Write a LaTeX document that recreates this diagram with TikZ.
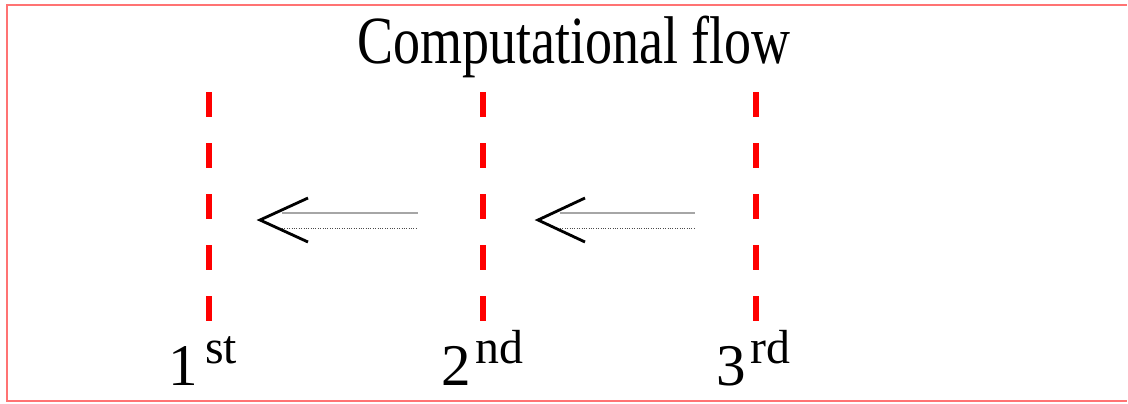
\documentclass[tikz,border=0pt]{standalone}
\usepackage{fontspec}
\setmainfont{Liberation Serif}
\usepackage{graphicx}
\usepackage{xcolor}
\usetikzlibrary{calc}

\newcommand{\narrowtext}[1]{\scalebox{0.8}[1]{#1}}

\begin{document}
\begin{tikzpicture}[
    x=0.025cm, y=-0.025cm,
    frame/.style={draw=red!55, line width=1pt},
    title/.style={inner sep=0pt, anchor=base, font=\fontsize{48}{50}\selectfont},
    ordinal/.style={inner sep=0pt, anchor=base, font=\fontsize{42}{44}\selectfont},
    suffix/.style={inner sep=0pt, anchor=base, font=\fontsize{34}{36}\selectfont},
    cut/.style={draw=red, line width=3.6pt, dash pattern=on 17.8pt off 18.5pt},
    shaftA/.style={draw=gray!70, line width=1.3pt},
    shaftB/.style={draw=gray!60!black, line width=0.7pt, densely dotted},
    head/.style={draw=black, line width=2pt},
]

\useasboundingbox (0,0) rectangle (1128,403);

%% --- Frame (open on the right) ---
\draw[frame] (1127,5) -- (7,5) -- (7,401) -- (1127,401);

%% --- Title ---
\node[title] (flow) at (574,63) {\narrowtext{Computational flow}};

%% --- Cut lines ---
\coordinate (top1) at (209,92);  \coordinate (bot1) at (209,322);
\coordinate (top2) at (483,92);  \coordinate (bot2) at (483,322);
\coordinate (top3) at (756,92);  \coordinate (bot3) at (756,322);
\draw[cut] (top1) -- (bot1);
\draw[cut] (top2) -- (bot2);
\draw[cut] (top3) -- (bot3);

%% --- Labels ---
\node[ordinal] (n1) at (183,385) {1};
\node[suffix]  (s1) at (221,363) {st};
\node[ordinal] (n2) at (456,385) {2};
\node[suffix]  (s2) at (499,363) {nd};
\node[ordinal] (n3) at (731,385) {3};
\node[suffix]  (s3) at (770,363) {rd};

%% --- Arrow: 2nd to 1st ---
\coordinate (tipA) at (260,220);
\coordinate (endA) at (418,220);
\draw[shaftA] ($(tipA)+(22,-7)$) -- ($(endA)+(0,-7)$);
\draw[shaftB] ($(tipA)+(22,8)$) -- ($(endA)+(0,8)$);
\draw[head] ($(tipA)+(48,-22)$) -- (tipA) -- ($(tipA)+(48,22)$);

%% --- Arrow: 3rd to 2nd ---
\coordinate (tipB) at (538,220);
\coordinate (endB) at (695,220);
\draw[shaftA] ($(tipB)+(22,-7)$) -- ($(endB)+(0,-7)$);
\draw[shaftB] ($(tipB)+(22,8)$) -- ($(endB)+(0,8)$);
\draw[head] ($(tipB)+(47,-22)$) -- (tipB) -- ($(tipB)+(47,22)$);

\end{tikzpicture}
\end{document}
